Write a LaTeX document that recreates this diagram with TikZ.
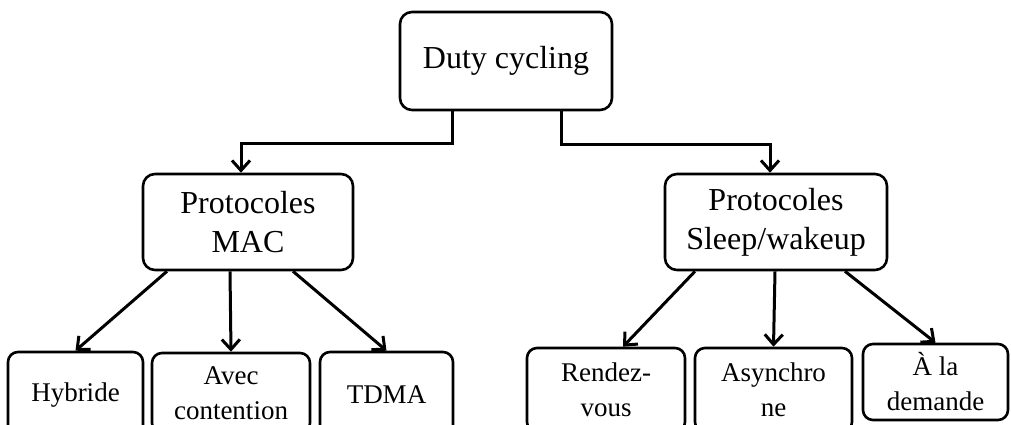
\documentclass[tikz,border=0pt]{standalone}
\usepackage{fontspec}
\setmainfont{Liberation Serif}
\usetikzlibrary{arrows.meta}
\begin{document}
\begin{tikzpicture}[x=1pt,y=-1pt,
  box/.style={draw, line width=2.6pt, fill=white, rounded corners=12pt, align=center, inner sep=0pt},
  big/.style={box, font=\fontsize{32}{39}\selectfont},
  small/.style={box, rounded corners=10pt, font=\fontsize{27}{35}\selectfont},
  arr/.style={line width=3pt, -{Straight Barb[length=10pt,width=18pt,line width=3pt]}}
]
\fill[white] (0,0) rectangle (1011,425);
\useasboundingbox (0,0) rectangle (1011,425);
\clip (0,0) rectangle (1011,425);

% top level
\node[big, minimum width=212pt, minimum height=98pt] (duty) at (506,61) {Duty cycling};

% second level
\node[big, minimum width=210pt, minimum height=96pt] (mac) at (248,222) {Protocoles\\MAC};
\node[big, minimum width=222pt, minimum height=96pt] (sleep) at (776,222) {Protocoles\\Sleep/wakeup};

% leaves under MAC
\node[small, minimum width=135pt, minimum height=86pt] (hyb) at (75.5,395) {Hybride};
\node[small, minimum width=158pt, minimum height=80pt] (avec) at (231,393) {Avec\\contention};
\node[small, minimum width=133pt, minimum height=86pt] (tdma) at (386.5,395) {TDMA};

% leaves under Sleep/wakeup
\node[small, minimum width=158pt, minimum height=84pt] (rdv) at (606,390) {Rendez-\\vous};
\node[small, minimum width=157pt, minimum height=84pt] (asy) at (773.5,390) {Asynchro\\ne};
\node[small, minimum width=145pt, minimum height=76pt] (ala) at (935.5,382) {À la\\demande};

% elbow connectors from the root
\draw[arr] ([xshift=-54pt]duty.south) -- ++(0,32) -| ([xshift=-7pt]mac.north);
\draw[arr] ([xshift=55pt]duty.south) -- ++(0,33) -| ([xshift=-6pt]sleep.north);

% fan-out under MAC
\draw[arr] ([xshift=-81pt]mac.south) -- (hyb.north);
\draw[arr] ([xshift=-18pt]mac.south) -- (avec.north);
\draw[arr] ([xshift=45pt]mac.south) -- (tdma.north);

% fan-out under Sleep/wakeup
\draw[arr] ([xshift=-81pt]sleep.south) -- ([xshift=17pt]rdv.north);
\draw[arr] ([xshift=-1pt]sleep.south) -- (asy.north);
\draw[arr] ([xshift=69pt]sleep.south) -- (ala.north);
\end{tikzpicture}
\end{document}
